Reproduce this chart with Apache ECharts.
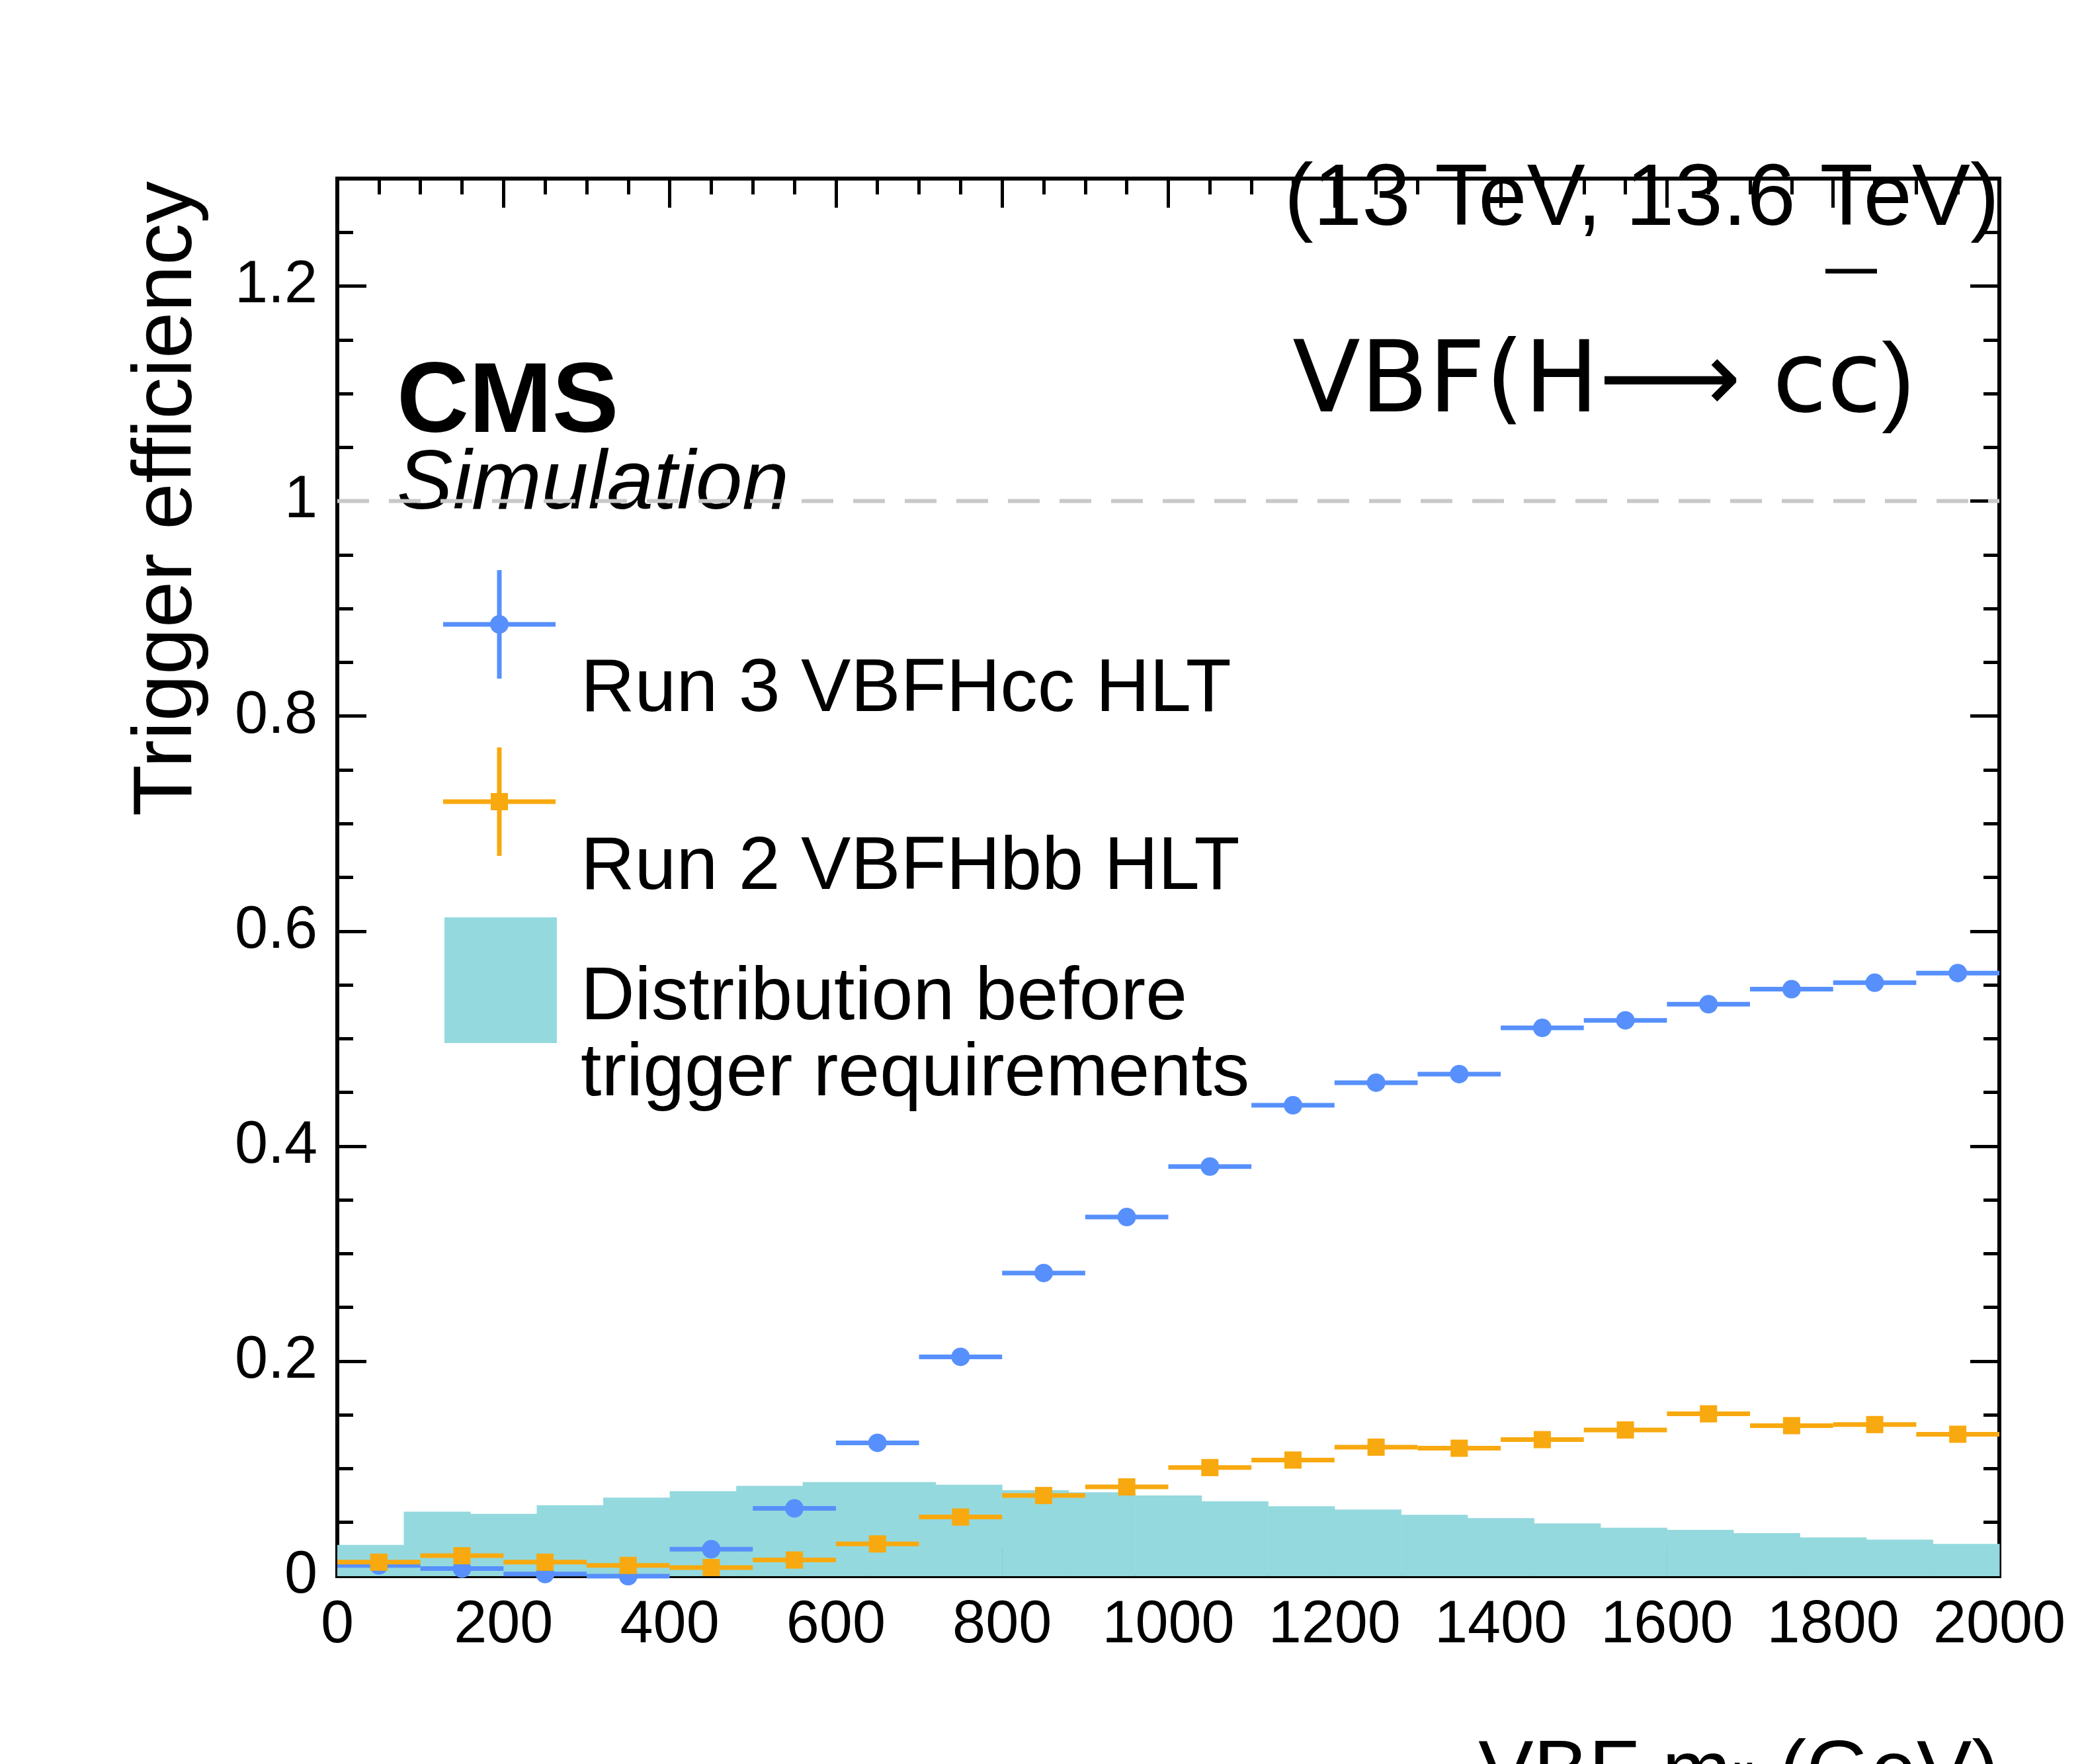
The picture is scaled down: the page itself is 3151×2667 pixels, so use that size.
<!DOCTYPE html>
<html><head><meta charset="utf-8">
<script src="https://cdn.jsdelivr.net/npm/echarts@6/dist/echarts.min.js"></script>
<style>html,body{margin:0;background:#fff}#c{width:3151px;height:2667px}</style>
</head><body><div id="c"></div>
<script>
// histogram (distribution before trigger), 80 GeV bins
const histEdges = [0,80,160,240,320,400,480,560,640,720,800,880,960,1040,1120,1200,1280,1360,1440,1520,1600,1680,1760,1840,1920,2000]
const histVals = [0.029,0.060,0.058,0.066,0.073,0.079,0.084,0.0875,0.0875,0.085,0.080,0.078,0.075,0.0696,0.065,0.062,0.057,0.054,0.049,0.045,0.043,0.040,0.036,0.034,0.030]
// efficiency points, 100 GeV bins
const binCenters = [50,150,250,350,450,550,650,750,850,950,1050,1150,1250,1350,1450,1550,1650,1750,1850,1950]
const run3Eff = [0.010,0.007,0.002,0.000,0.025,0.063,0.124,0.204,0.282,0.334,0.381,0.438,0.459,0.467,0.510,0.517,0.532,0.546,0.552,0.561]
const run2Eff = [0.013,0.019,0.013,0.010,0.008,0.015,0.030,0.055,0.075,0.083,0.101,0.108,0.120,0.119,0.127,0.136,0.151,0.140,0.141,0.132]
const errY = 0.006
const halfW = 50

const blue = '#5790fc', orange = '#f8a90f', teal = '#94d9de'
const font = 'Liberation Sans'
const F = (s, st) => (st || '') + ' ' + s + 'px "Liberation Sans"'

const chart = echarts.init(document.getElementById('c'))

function pointSeries(name, vals, color, symbol) {
  return {
    name, type: 'custom', z: 5,
    data: binCenters.map((x, i) => [x, vals[i]]),
    renderItem(params, api) {
      const x = api.value(0), y = api.value(1)
      const l = api.coord([x - halfW, y]), r = api.coord([x + halfW, y])
      const c = api.coord([x, y])
      const t = api.coord([x, y + errY]), b = api.coord([x, y - errY])
      const st = { stroke: color, lineWidth: 7 }
      const children = [
        { type: 'line', shape: { x1: l[0], y1: l[1], x2: r[0], y2: r[1] }, style: st },
        { type: 'line', shape: { x1: t[0], y1: t[1], x2: b[0], y2: b[1] }, style: st }
      ]
      if (symbol === 'circle') children.push({ type: 'circle', shape: { cx: c[0], cy: c[1], r: 14 }, style: { fill: color } })
      else children.push({ type: 'rect', shape: { x: c[0] - 13, y: c[1] - 13, width: 26, height: 26 }, style: { fill: color } })
      return { type: 'group', children }
    }
  }
}

const axisCommon = () => ({
  axisLine: { show: true, onZero: false, lineStyle: { color: '#000', width: 6 } },
  axisTick: { show: true, inside: true, length: 44, lineStyle: { color: '#000', width: 5 } },
  minorTick: { show: true, splitNumber: 4, length: 24, lineStyle: { color: '#000', width: 5 } },
  splitLine: { show: false }
})

chart.setOption({
  animation: false,
  grid: { left: 510, right: 128, top: 270, bottom: 284, show: true, borderColor: '#000', borderWidth: 6 },
  xAxis: [
    Object.assign({ type: 'value', min: 0, max: 2000, interval: 200, position: 'bottom',
      axisLabel: { fontFamily: font, fontSize: 90, color: '#000', margin: 30, formatter: v => String(v) } }, axisCommon()),
    Object.assign({ type: 'value', min: 0, max: 2000, interval: 200, position: 'top', axisLabel: { show: false } }, axisCommon())
  ],
  yAxis: [
    Object.assign({ type: 'value', min: 0, max: 1.3, interval: 0.2, position: 'left',
      axisLabel: { fontFamily: font, fontSize: 90, color: '#000', margin: 30,
        formatter: v => v === 0 ? '0' : (v > 1.25 ? '' : (Math.round(v * 10) / 10).toString()) } }, axisCommon()),
    Object.assign({ type: 'value', min: 0, max: 1.3, interval: 0.2, position: 'right', axisLabel: { show: false } }, axisCommon())
  ],
  series: [
    {
      name: 'Distribution before trigger requirements', type: 'custom', z: 1,
      data: histVals.map((v, i) => [histEdges[i], histEdges[i + 1], v]),
      renderItem(params, api) {
        const p0 = api.coord([api.value(0), api.value(2)])
        const p1 = api.coord([api.value(1), 0])
        return { type: 'rect', shape: { x: p0[0], y: p0[1], width: p1[0] - p0[0] + 0.5, height: p1[1] - p0[1] }, style: { fill: teal } }
      }
    },
    {
      type: 'line', data: [[0, 1], [2000, 1]], symbol: 'none', z: 2,
      lineStyle: { color: '#c8c8c8', width: 6, type: [48, 30] }
    },
    pointSeries('Run 3 VBFHcc HLT', run3Eff, blue, 'circle'),
    pointSeries('Run 2 VBFHbb HLT', run2Eff, orange, 'square'),
    { type: 'line', xAxisIndex: 1, yAxisIndex: 1, data: [], symbol: 'none' }
  ],
  graphic: [
    { type: 'text', x: 3023, y: 238, style: { text: '(13 TeV, 13.6 TeV)', font: F(132), fill: '#000', textAlign: 'right', textVerticalAlign: 'alphabetic' } },
    { type: 'text', x: 600, y: 536, style: { text: 'CMS', font: F(151, 'bold'), fill: '#000', textVerticalAlign: 'alphabetic' } },
    { type: 'text', x: 600, y: 670, style: { text: 'Simulation', font: F(127, 'italic'), fill: '#000', textVerticalAlign: 'alphabetic' } },
    { type: 'text', x: 2895, y: 508, style: { text: ')', font: F(150), fill: '#000', textAlign: 'right', textVerticalAlign: 'alphabetic' } },
    { type: 'text', x: 2845, y: 508, style: { text: 'VBF(H\u27F6 cc', font: '150px "DejaVu Sans"', fill: '#000', textAlign: 'right', textVerticalAlign: 'alphabetic' } },
    { type: 'line', shape: { x1: 2760, y1: 410, x2: 2838, y2: 410 }, style: { stroke: '#000', lineWidth: 7 } },
    { type: 'text', x: 3023, y: 2621, style: { text: 'VBF m{s|jj} (GeV)', font: F(125), fill: '#000', textAlign: 'right', textVerticalAlign: 'alphabetic',
      rich: { s: { fontFamily: font, fontSize: 85, padding: [40, 0, 0, 0] } } } },
    { type: 'text', x: 254, y: 274, rotation: Math.PI / 2, style: { text: 'Trigger efficiency', font: F(127), fill: '#000', textAlign: 'right', textVerticalAlign: 'middle' } },
    // legend
    { type: 'line', shape: { x1: 670, y1: 944, x2: 840, y2: 944 }, style: { stroke: blue, lineWidth: 7 } },
    { type: 'line', shape: { x1: 755, y1: 862, x2: 755, y2: 1026 }, style: { stroke: blue, lineWidth: 7 } },
    { type: 'circle', shape: { cx: 755, cy: 944, r: 14 }, style: { fill: blue } },
    { type: 'text', x: 878, y: 987, style: { text: 'Run 3 VBFHcc HLT', font: F(113), fill: '#000', textVerticalAlign: 'alphabetic' } },
    { type: 'line', shape: { x1: 670, y1: 1212, x2: 840, y2: 1212 }, style: { stroke: orange, lineWidth: 7 } },
    { type: 'line', shape: { x1: 755, y1: 1130, x2: 755, y2: 1294 }, style: { stroke: orange, lineWidth: 7 } },
    { type: 'rect', shape: { x: 742, y: 1199, width: 26, height: 26 }, style: { fill: orange } },
    { type: 'text', x: 878, y: 1256, style: { text: 'Run 2 VBFHbb HLT', font: F(113), fill: '#000', textVerticalAlign: 'alphabetic' } },
    { type: 'rect', shape: { x: 672, y: 1387, width: 170, height: 190 }, style: { fill: teal } },
    { type: 'text', x: 878, y: 1453, style: { text: 'Distribution before', font: F(113), fill: '#000', textVerticalAlign: 'alphabetic' } },
    { type: 'text', x: 878, y: 1568, style: { text: 'trigger requirements', font: F(113), fill: '#000', textVerticalAlign: 'alphabetic' } }
  ]
})
</script></body></html>
